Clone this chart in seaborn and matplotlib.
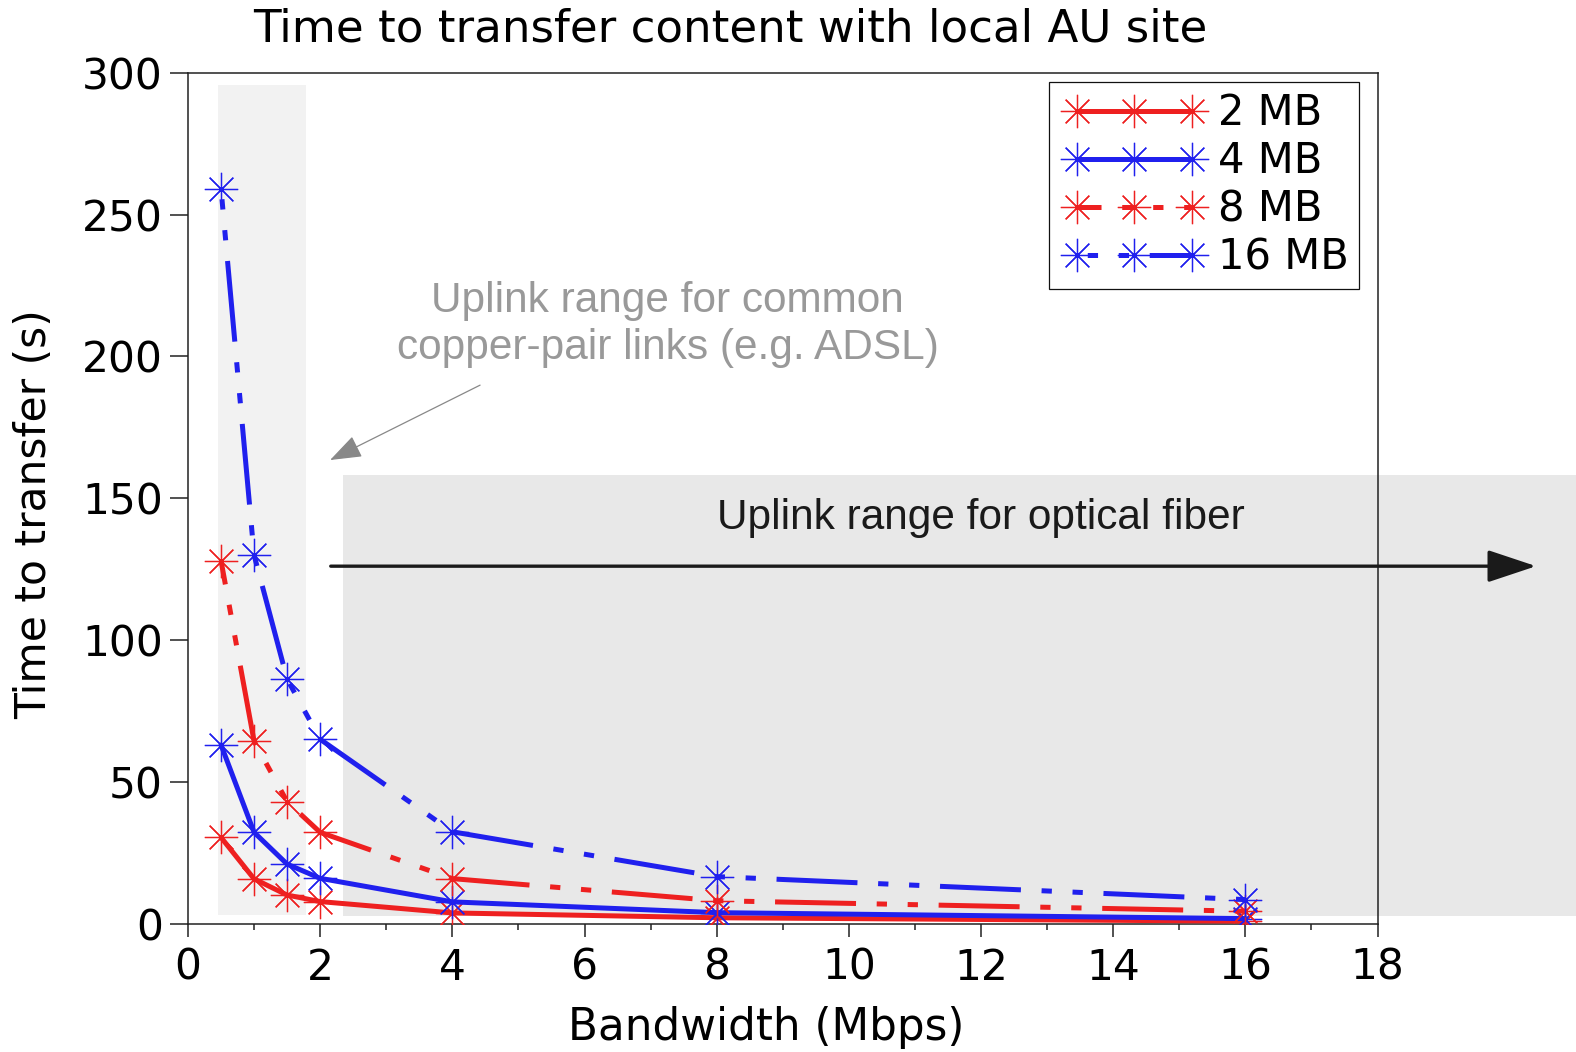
import matplotlib
matplotlib.use("Agg")
import matplotlib.pyplot as plt
from matplotlib.patches import Rectangle
from matplotlib.lines import Line2D
from matplotlib.legend_handler import HandlerLine2D
from matplotlib.ticker import MultipleLocator
import pandas as pd
import seaborn as sns

# Transfer times (s) for each content size over the measured uplink bandwidths
bandwidth_mbps = [0.5, 1, 1.5, 2, 4, 8, 16]
time_2mb = [30.5, 15.9, 10.2, 7.9, 3.9, 2.2, 1.0]
time_4mb = [63.1, 32.3, 21.1, 16.1, 7.8, 4.0, 1.9]
time_8mb = [128.0, 64.4, 43.1, 32.3, 16.0, 8.2, 4.5]
time_16mb = [259.0, 130.0, 86.3, 65.1, 32.5, 16.7, 8.6]
size_labels = ["2 MB", "4 MB", "8 MB", "16 MB"]

x_ticks = list(range(0, 19, 2))
y_ticks = list(range(0, 301, 50))

sns.set_style("ticks")
plt.rcParams["font.family"] = ["DejaVu Sans"]
plt.rcParams["lines.scale_dashes"] = False
for key in ("text.color", "axes.labelcolor", "xtick.color", "ytick.color"):
    plt.rcParams[key] = "black"

RED = "#ee2020"
BLUE = "#2020ee"
ANNOT_FONT = ["Liberation Sans", "DejaVu Sans"]

# dash-dot-dot pattern in points: long, gap, dot, gap, dot, gap
pattern = (58.3, 14.9, 7.4, 14.9, 7.4, 14.9)
styles = {
    "2 MB": dict(color=RED, linestyle="-"),
    "4 MB": dict(color=BLUE, linestyle="-"),
    "8 MB": dict(color=RED, linestyle=(41.0, pattern)),
    "16 MB": dict(color=BLUE, linestyle=(65.8, pattern)),
}
series = dict(zip(size_labels, [time_2mb, time_4mb, time_8mb, time_16mb]))

fig = plt.figure(figsize=(15.76, 10.52), dpi=100)
ax = fig.add_axes([0.11929, 0.12167, 0.75476, 0.80922])

# shaded uplink ranges
ax.add_patch(Rectangle((0.45, 3.3), 1.34, 292.3, facecolor="#f2f2f2",
                       edgecolor="none", zorder=0.5))
ax.add_patch(Rectangle((2.35, 2.8), 18.75, 155.4, facecolor="#e8e8e8",
                       edgecolor="none", zorder=0.5, clip_on=False))

for label in size_labels:
    df = pd.DataFrame({"Bandwidth": bandwidth_mbps, "Time": series[label]})
    st = styles[label]
    sns.lineplot(data=df, x="Bandwidth", y="Time", ax=ax, label=label,
                 color=st["color"], linestyle=st["linestyle"], linewidth=3.6,
                 marker=(8, 2, 0), markersize=24, markeredgewidth=0.9,
                 markeredgecolor=st["color"], errorbar=None, zorder=3)

ax.set_xlim(0, 18)
ax.set_ylim(0, 300)
ax.set_xticks(x_ticks)
ax.set_yticks(y_ticks)
ax.xaxis.set_minor_locator(MultipleLocator(1))
ax.tick_params(axis="both", which="major", direction="out", width=1.1,
               color="#222222", labelsize=30.5, labelcolor="black")
ax.tick_params(axis="x", which="major", length=9.4, pad=7)
ax.tick_params(axis="y", which="major", length=13, pad=5)
ax.tick_params(axis="x", which="minor", length=4.3, width=1.1, color="#222222")
for sp in ax.spines.values():
    sp.set_visible(True)
    sp.set_linewidth(1.1)
    sp.set_color("#222222")

ax.set_xlabel("Bandwidth (Mbps)", fontsize=31.5, color="black")
ax.set_ylabel("Time to transfer (s)", fontsize=30.5, color="black")
ax.xaxis.set_label_coords(0.4864, -0.0964)
ax.yaxis.set_label_coords(-0.112, 0.481)

fig.text(0.4632, 0.9724, "Time to transfer content with local AU site",
         ha="center", va="center", fontsize=32.5, color="black")

# optical fiber range arrow and caption
ax.annotate("", xy=(20.4, 126.1), xytext=(2.16, 126.1),
            arrowprops=dict(arrowstyle="-|>,head_length=0.6,head_width=0.2",
                            lw=2.4, color="#1a1a1a", mutation_scale=50,
                            shrinkA=0, shrinkB=0),
            annotation_clip=False, zorder=4)
ax.text(12.0, 143.1, "Uplink range for optical fiber", ha="center",
        va="center", fontsize=30.5, family=ANNOT_FONT, color="#1a1a1a",
        zorder=4)

# copper-pair range caption and pointer
ax.text(7.26, 219.5, "Uplink range for common", ha="center", va="center",
        fontsize=30.5, family=ANNOT_FONT, color="#999999", zorder=4)
ax.text(7.26, 202.9, "copper-pair links (e.g. ADSL)", ha="center",
        va="center", fontsize=30.5, family=ANNOT_FONT, color="#999999",
        zorder=4)
ax.annotate("", xy=(2.15, 163.5), xytext=(4.42, 189.9),
            arrowprops=dict(arrowstyle="-|>,head_length=0.55,head_width=0.2",
                            lw=0.9, color="#888888", mutation_scale=36,
                            shrinkA=0, shrinkB=0), zorder=4)

leg = ax.legend(loc="upper right", bbox_to_anchor=(0.9845, 0.9894),
                borderaxespad=0, fontsize=30, handlelength=3.6,
                handletextpad=0.2, labelspacing=0.15, borderpad=0.25,
                fancybox=False, framealpha=1, edgecolor="#111111",
                handler_map={Line2D: HandlerLine2D(numpoints=3, marker_pad=0.42)})
leg.get_frame().set_linewidth(0.9)

fig.savefig("out.png", dpi=100)
